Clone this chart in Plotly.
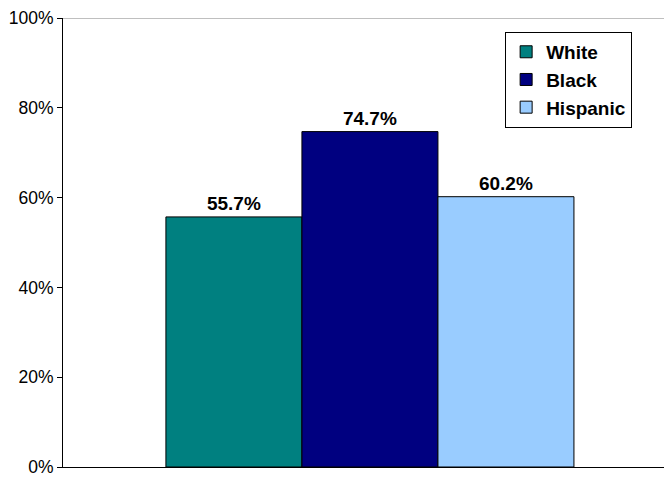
import plotly.graph_objects as go

groups = ["White", "Black", "Hispanic"]
values = [55.7, 74.7, 60.2]
colors = ["#008080", "#000080", "#99CCFF"]

fig = go.Figure()
for name, val, col in zip(groups, values, colors):
    fig.add_trace(go.Bar(
        x=[0], y=[val / 100], name=name,
        marker=dict(color=col, line=dict(color="#000000", width=1)),
        text=[f"{val:.1f}%"], textposition="outside",
        textfont=dict(family="Arial", size=19, color="#000000"),
        texttemplate="<b>%{text}</b>", cliponaxis=False,
    ))

# the page body adds an 8px margin, so the figure is a little smaller than the window
fig.update_layout(
    width=664, height=469,
    margin=dict(l=55, r=0, t=7, b=8),
    paper_bgcolor="white", plot_bgcolor="white",
    barmode="group", bargap=0.33, bargroupgap=0,
    font=dict(family="Arial", size=17, color="#000000"),
    showlegend=True,
    legend=dict(
        x=0.726, y=0.969, xanchor="left", yanchor="top",
        bgcolor="white", bordercolor="#000000", borderwidth=1,
        font=dict(family="Arial", size=19, color="#000000", weight="bold"),
        itemwidth=30, tracegroupgap=0,
    ),
)
fig.update_xaxes(
    range=[-0.504, 0.496], showticklabels=False, ticks="",
    showline=True, linecolor="#000000", linewidth=1, showgrid=False, zeroline=False,
)
fig.update_yaxes(
    range=[0, 1], tickvals=[0, 0.2, 0.4, 0.6, 0.8, 1.0],
    ticktext=["0%", "20%", "40%", "60%", "80%", "100%"],
    ticks="outside", ticklen=5, tickcolor="#000000",
    showline=True, linecolor="#000000", linewidth=1, showgrid=False, zeroline=False,
    tickfont=dict(family="Arial", size=17.5), ticklabeloverflow="allow",
)
fig.add_shape(type="line", xref="paper", yref="y", x0=0, x1=1, y0=1, y1=1,
              line=dict(color="#808080", width=1))

fig.write_html("out.html")
